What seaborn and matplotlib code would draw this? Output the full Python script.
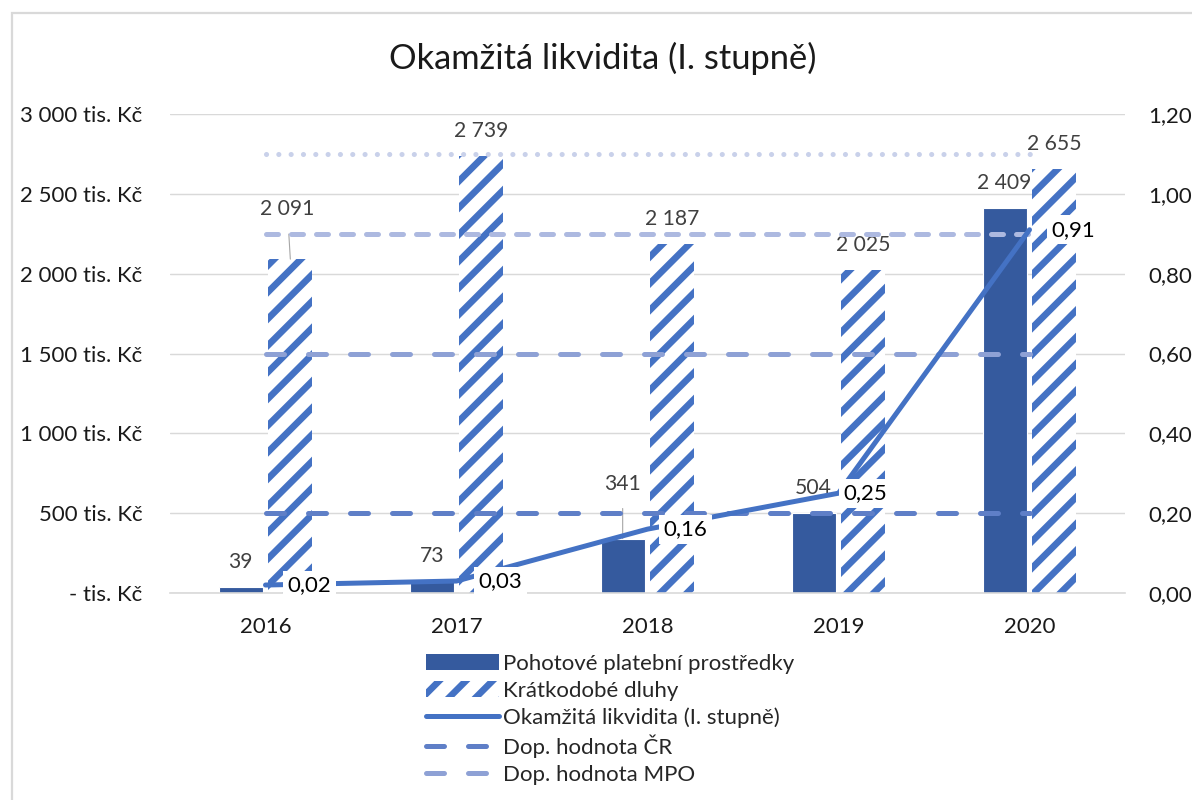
import numpy as np
import pandas as pd
import seaborn as sns
import matplotlib.pyplot as plt
from matplotlib.patches import Patch, Rectangle
from matplotlib.lines import Line2D
from matplotlib.ticker import FuncFormatter, MultipleLocator

# data
years = ["2016", "2017", "2018", "2019", "2020"]
pohotove = [39, 73, 341, 504, 2409]          # tis. Kč
kratkodobe = [2091, 2739, 2187, 2025, 2655]  # tis. Kč
likvidita = [0.02, 0.03, 0.16, 0.25, 0.91]
dop_cr = 0.2
dop_mpo = 0.6
dop_mpo_horni = 0.9
dop_max = 1.1

title = "Okamžitá likvidita (I. stupně)"
s_pohotove = "Pohotové platební prostředky"
s_kratkodobe = "Krátkodobé dluhy"
s_likvidita = "Okamžitá likvidita (I. stupně)"
s_cr = "Dop. hodnota ČR"
s_mpo = "Dop. hodnota MPO"

# colours
c_dark = "#355A9E"
c_blue = "#4472C4"
c_cr = "#5F7FC7"
c_mpo = "#8EA1D5"
c_mpo2 = "#ADB9E0"
c_max = "#C9D1EA"
c_grid = "#D9D9D9"
c_lab = "#404040"
FS = 20
FS_LAB = 19
HATCH_LW = 6

sns.set_theme(style="white")
plt.rcParams["font.family"] = ["Lato", "DejaVu Sans"]
plt.rcParams["hatch.linewidth"] = HATCH_LW


def hatch_it(p):
    p.set_facecolor("white")
    p.set_edgecolor(c_blue)
    p.set_hatch("/")
    p.set_linewidth(0)
    if hasattr(p, "set_hatch_linewidth"):
        p.set_hatch_linewidth(HATCH_LW)


df = pd.DataFrame({
    "rok": years * 2,
    "hodnota": pohotove + kratkodobe,
    "serie": [s_pohotove] * len(years) + [s_kratkodobe] * len(years),
})

W, H = 1192, 800
fig, ax = plt.subplots(figsize=(W / 80, H / 80), dpi=80)
fig.subplots_adjust(left=170 / W, right=1125 / W, bottom=1 - 593 / H, top=1 - 114 / H)

sns.barplot(data=df, x="rok", y="hodnota", hue="serie",
            palette=[c_dark, c_blue], width=0.52, gap=0.12,
            saturation=1, errorbar=None, legend=False, ax=ax)

# hatched short-term debts
for bar in ax.containers[1]:
    hatch_it(bar)

ax.set_ylim(0, 3000)
ax.yaxis.set_major_locator(MultipleLocator(500))
ax.yaxis.set_major_formatter(FuncFormatter(
    lambda v, p: "- tis. Kč" if v == 0 else f"{int(v):,} tis. Kč".replace(",", " ")))
ax.set_xlabel("")
ax.set_ylabel("")
ax.grid(axis="y", color=c_grid, lw=1.3)
ax.set_axisbelow(True)
for s in ["top", "left", "right"]:
    ax.spines[s].set_visible(False)
ax.spines["bottom"].set_color(c_grid)
ax.spines["bottom"].set_linewidth(1.5)
ax.tick_params(axis="y", length=0, pad=25, labelsize=FS, labelcolor="#1a1a1a")
ax.tick_params(axis="x", length=0, pad=22, labelsize=FS, labelcolor="#1a1a1a")

# bar labels
lift_p = {2: 55}
lift_k = {0: 50}
leader = dict(arrowstyle="-", color="#A6A6A6", lw=1, shrinkA=11, shrinkB=0)
for i, bar in enumerate(ax.containers[0]):
    x = bar.get_x() + bar.get_width() / 2
    ax.annotate(f"{pohotove[i]:,}".replace(",", " "), (x, pohotove[i]),
                xytext=(0, lift_p.get(i, 25)), textcoords="offset pixels",
                ha="center", va="center", fontsize=FS_LAB, color=c_lab, zorder=10,
                arrowprops=leader if i in lift_p else None)
for i, bar in enumerate(ax.containers[1]):
    x = bar.get_x() + bar.get_width() / 2
    ax.annotate(f"{kratkodobe[i]:,}".replace(",", " "), (x, kratkodobe[i]),
                xytext=(-3 if i in lift_k else 0, lift_k.get(i, 25)),
                textcoords="offset pixels", ha="center", va="center",
                fontsize=FS_LAB, color=c_lab, zorder=10,
                arrowprops=leader if i in lift_k else None)

# ratio axis
ax2 = ax.twinx()
pos = np.arange(len(years))
ax2.plot(pos, [dop_max] * len(pos), color=c_max, lw=4.6, dashes=(0.01, 2.4),
         dash_capstyle="round")
ax2.plot(pos, [dop_mpo_horni] * len(pos), color=c_mpo2, lw=4.5, dashes=(2.4, 2.6),
         dash_capstyle="round")
ax2.plot(pos, [dop_mpo] * len(pos), color=c_mpo, lw=4.5, dashes=(3.6, 4.8),
         dash_capstyle="round")
ax2.plot(pos, [dop_cr] * len(pos), color=c_cr, lw=4.5, dashes=(3.6, 4.8),
         dash_capstyle="round")
sns.lineplot(x=pos, y=likvidita, ax=ax2, color=c_blue, lw=4.5,
             solid_capstyle="round", solid_joinstyle="round")

shift_l = {2: 16, 3: 5}
for i, v in enumerate(likvidita):
    ax2.annotate(f"{v:.2f}".replace(".", ","), (pos[i], v),
                 xytext=(shift_l.get(i, 22), 0),
                 textcoords="offset pixels", ha="left", va="center",
                 fontsize=FS, color="black", zorder=5,
                 bbox=dict(boxstyle="square,pad=0.2", fc="white", ec="none"))

ax2.set_ylim(0, 1.2)
ax2.yaxis.set_major_locator(MultipleLocator(0.2))
ax2.yaxis.set_major_formatter(FuncFormatter(lambda v, p: f"{v:.2f}".replace(".", ",")))
ax2.tick_params(axis="y", length=0, pad=21, labelsize=FS, labelcolor="#1a1a1a")
ax2.grid(False)
for s in ax2.spines.values():
    s.set_visible(False)
ax.set_xlim(-0.5, len(years) - 0.5)

fig.text(603 / W, 1 - 58 / H, title, ha="center", va="center", fontsize=31, color="#1a1a1a")

hp = Patch(label=s_kratkodobe)
hatch_it(hp)
handles = [
    Patch(facecolor=c_dark, edgecolor="none"),
    hp,
    Line2D([], [], color=c_blue, lw=4.5, solid_capstyle="round"),
    Line2D([], [], color=c_cr, lw=4.5, dashes=(3.6, 4.8), dash_capstyle="round"),
    Line2D([], [], color=c_mpo, lw=4.5, dashes=(3.6, 4.8), dash_capstyle="round"),
]
fig.legend(handles, [s_pohotove, s_kratkodobe, s_likvidita, s_cr, s_mpo],
           loc="upper left", bbox_to_anchor=(426 / W, 1 - 654 / H), frameon=False,
           fontsize=FS, handlelength=3.3, handletextpad=0.15, labelspacing=0.3,
           borderpad=0, borderaxespad=0)

fig.patches.append(Rectangle((12 / W, -0.05), 1.5, 1.05 - 13 / H, transform=fig.transFigure,
                             fill=False, ec=c_grid, lw=2))

fig.savefig("out.png", dpi=80)
